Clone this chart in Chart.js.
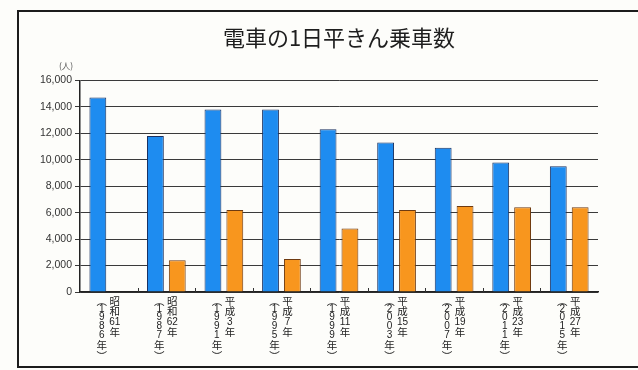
<!DOCTYPE html>
<html>
<head>
<meta charset="utf-8">
<script src="https://cdn.jsdelivr.net/npm/chart.js@4"></script>
<style>
  html, body { margin: 0; padding: 0; background: #fdfdfa; }
  #wrap { width: 638px; height: 370px; }
</style>
</head>
<body>
<div id="wrap"><canvas id="chart-trains"></canvas></div>
<script>
const eraLabels = ['昭和61年', '昭和62年', '平成3年', '平成7年', '平成11年', '平成15年', '平成19年', '平成23年', '平成27年'];
const yearLabels = ['1986', '1987', '1991', '1995', '1999', '2003', '2007', '2011', '2015'];
const blueValues = [14700, 11800, 13800, 13800, 12300, 11300, 10900, 9800, 9500];
const orangeValues = [null, 2400, 6200, 2500, 4800, 6200, 6500, 6400, 6400];
const yTicks = [0, 2000, 4000, 6000, 8000, 10000, 12000, 14000, 16000];

const CJK = '"Noto Sans CJK JP", sans-serif';

// split era label into vertical tokens, digit runs stay horizontal
function eraTokens(s) {
  return s.match(/\d+|./g);
}

const framePlugin = {
  id: 'frame',
  beforeDraw(chart) {
    const c = chart.ctx;
    c.save();
    c.fillStyle = '#fdfdfa';
    c.fillRect(0, 0, chart.width, chart.height);
    c.strokeStyle = '#1c1c1c';
    c.lineWidth = 2;
    c.strokeRect(18, 11, chart.width + 10, 356);
    c.restore();
  }
};

const labelsPlugin = {
  id: 'verticalLabels',
  afterDraw(chart) {
    const c = chart.ctx;
    const x = chart.scales.x;
    const y = chart.scales.y;
    c.save();
    c.textAlign = 'center';
    c.textBaseline = 'middle';

    // unit
    c.font = '8.5px ' + CJK;
    c.fillStyle = '#555';
    c.fillText('(人)', 66, 66);
    c.fillStyle = '#222';

    // small boundary marks on the baseline
    c.strokeStyle = '#333';
    c.lineWidth = 1;
    const half = (x.getPixelForValue(1) - x.getPixelForValue(0)) / 2;
    for (let i = 0; i < eraLabels.length - 1; i++) {
      const bx = Math.round(x.getPixelForValue(i) + half) + 0.5;
      c.beginPath();
      c.moveTo(bx, y.bottom);
      c.lineTo(bx, y.bottom - 4);
      c.stroke();
    }

    eraLabels.forEach((era, i) => {
      const cx = x.getPixelForValue(i);
      // era column (right)
      let ty = 301;
      eraTokens(era).forEach(t => {
        c.font = /\d/.test(t) ? '10px "Liberation Sans", sans-serif' : '10.5px ' + CJK;
        c.fillText(t, cx + 6, ty);
        ty += 10.5;
      });
      // year column (left)
      const lx = cx - 7;
      c.font = '10.5px ' + CJK;
      c.fillText('︵', lx, 301);
      c.font = '10px "Liberation Sans", sans-serif';
      let yy = 309;
      yearLabels[i].split('').forEach(d => {
        c.fillText(d, lx, yy);
        yy += 8.6;
      });
      c.font = '10.5px ' + CJK;
      c.fillText('年', lx, yy + 2);
      c.fillText('︶', lx, yy + 13);
    });
    c.restore();
  }
};

new Chart(document.getElementById('chart-trains'), {
  type: 'bar',
  data: {
    labels: eraLabels,
    datasets: [{
      data: blueValues,
      backgroundColor: '#1e8cf0',
      borderColor: '#1a3160',
      borderWidth: 1,
      borderSkipped: 'bottom',
      barPercentage: 0.77,
      categoryPercentage: 0.76
    }, {
      data: orangeValues,
      backgroundColor: '#f8961e',
      borderColor: '#6e3a10',
      borderWidth: 1,
      borderSkipped: 'bottom',
      barPercentage: 0.77,
      categoryPercentage: 0.76
    }]
  },
  options: {
    responsive: true,
    maintainAspectRatio: false,
    animation: false,
    layout: { padding: { left: 0, right: 40, top: 0, bottom: 0 } },
    plugins: {
      legend: { display: false },
      tooltip: { enabled: false },
      title: {
        display: true,
        fullSize: false,
        text: '電車の1日平きん乗車数',
        color: '#1e1e1e',
        font: { family: CJK, size: 22, weight: 'normal' },
        padding: { top: 24, bottom: 30 }
      }
    },
    scales: {
      x: {
        grid: { display: false, drawTicks: false },
        border: { display: true, color: '#222', width: 1.5 },
        ticks: { display: false },
        afterFit(scale) { scale.height = 78; }
      },
      y: {
        min: 0,
        max: 16000,
        afterBuildTicks(scale) { scale.ticks = yTicks.map(v => ({ value: v })); },
        grid: { color: '#3a3a3a', lineWidth: 1, tickLength: 5 },
        border: { display: true, color: '#222', width: 1.5 },
        ticks: {
          color: '#333',
          padding: 3,
          font: { family: '"Liberation Sans", Arial, sans-serif', size: 10.5 },
          callback: v => v.toLocaleString('en-US')
        },
        afterFit(scale) { scale.width = 80; }
      }
    }
  },
  plugins: [framePlugin, labelsPlugin]
});
</script>
</body>
</html>
